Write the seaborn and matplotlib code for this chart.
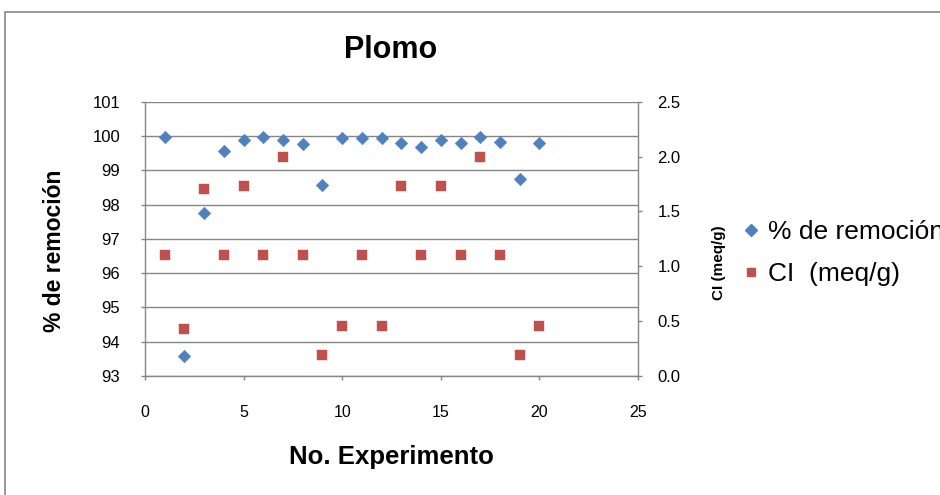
import matplotlib
matplotlib.use("Agg")
import matplotlib.pyplot as plt
from matplotlib.lines import Line2D
from matplotlib.patches import Rectangle
from matplotlib.ticker import FormatStrFormatter
import seaborn as sns
import pandas as pd

# Experiment data
experimento = list(range(1, 21))
remocion = [99.96, 93.58, 97.76, 99.57, 99.88, 99.96, 99.88, 99.77, 98.56, 99.95,
            99.95, 99.95, 99.79, 99.69, 99.88, 99.81, 99.97, 99.83, 98.74, 99.81]
ci = [1.10, 0.43, 1.70, 1.10, 1.73, 1.10, 2.00, 1.10, 0.19, 0.46,
      1.10, 0.46, 1.73, 1.10, 1.73, 1.10, 2.00, 1.10, 0.19, 0.46]

left_ticks = [93, 94, 95, 96, 97, 98, 99, 100, 101]
right_ticks = [0.0, 0.5, 1.0, 1.5, 2.0, 2.5]
x_ticks = [0, 5, 10, 15, 20, 25]

label_rem = "% de remoción"
label_ci = "CI  (meq/g)"

df = pd.DataFrame({"exp": experimento, "rem": remocion, "ci": ci})

sns.set_style("white")
plt.rcParams["font.family"] = ["Liberation Sans", "DejaVu Sans"]
plt.rcParams["text.color"] = "black"
plt.rcParams["axes.labelcolor"] = "black"

BLUE = "#4F81BD"
RED = "#C0504D"
GRAY = "#868686"

fig = plt.figure(figsize=(9.4, 4.95), dpi=100)
ax = fig.add_axes([145 / 940, 1 - 376 / 495, 493 / 940, 274.3 / 495])
ax2 = ax.twinx()

sns.scatterplot(data=df, x="exp", y="rem", ax=ax, marker="D", s=42,
                color=BLUE, edgecolor=BLUE, linewidth=0.3, legend=False, zorder=3)
sns.scatterplot(data=df, x="exp", y="ci", ax=ax2, marker="s", s=50,
                color=RED, edgecolor=RED, linewidth=0.3, legend=False, zorder=3)

ax.set_xlim(0, 25)
ax.set_ylim(93, 101)
ax2.set_ylim(0, 2.5)
ax.set_xticks(x_ticks)
ax.set_yticks(left_ticks)
ax2.set_yticks(right_ticks)
ax2.yaxis.set_major_formatter(FormatStrFormatter("%.1f"))

# horizontal gridlines from the left axis
ax.grid(axis="y", color=GRAY, linewidth=1.0)
ax.grid(axis="x", visible=False)
ax.set_axisbelow(True)

for a in (ax, ax2):
    a.spines["top"].set_visible(False)
    for side in ("left", "right", "bottom"):
        a.spines[side].set_color(GRAY)
        a.spines[side].set_linewidth(1.0)
ax2.spines["left"].set_visible(False)
ax2.spines["bottom"].set_visible(False)
ax.spines["right"].set_visible(False)

ax.tick_params(axis="y", direction="out", length=3, width=1, color=GRAY,
               pad=15, labelsize=12, left=True, labelcolor="black")
ax.tick_params(axis="x", direction="out", length=3, width=1, color=GRAY,
               pad=18, labelsize=11.5, bottom=True, labelcolor="black")
ax2.tick_params(axis="y", direction="out", length=3, width=1, color=GRAY,
                pad=11, labelsize=12, right=True, labelcolor="black")

ax.set_xlabel("No. Experimento", fontsize=18.5, fontweight="bold", va="center")
ax.xaxis.set_label_coords(0.5, -0.295)
ax.set_ylabel("% de remoción", fontsize=16.5, fontweight="bold", va="center")
ax.yaxis.set_label_coords(-0.1826, 0.456)
ax2.set_ylabel("CI (meq/g)", fontsize=11, fontweight="bold", va="center", rotation=90)
ax2.yaxis.set_label_coords(1.164, 0.412)

fig.text(391 / 940, 1 - 50 / 495, "Plomo", ha="center", va="center",
         fontsize=22, fontweight="bold")

handles = [
    Line2D([], [], linestyle="none", marker="D", markersize=6.0,
           color=BLUE, markeredgecolor=BLUE),
    Line2D([], [], linestyle="none", marker="s", markersize=6.0,
           color=RED, markeredgecolor=RED),
]
fig.legend(handles, [label_rem, label_ci], loc="center left",
           bbox_to_anchor=(743 / 940, 1 - 253 / 495), frameon=False,
           fontsize=19, handlelength=0.6, handletextpad=0.35,
           labelspacing=0.68, borderaxespad=0, borderpad=0)

# chart-area border
fig.add_artist(Rectangle((5 / 940, -0.2), 1.2, (1 - 12 / 495) + 0.2,
                         transform=fig.transFigure, fill=False,
                         edgecolor=GRAY, linewidth=1.2))

fig.savefig("out.png", dpi=100)
